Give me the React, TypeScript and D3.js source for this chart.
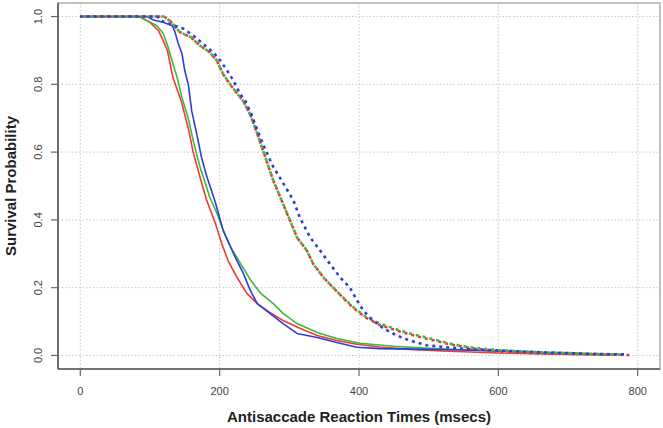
import { useMemo } from 'react';
import { scaleLinear, line, curveLinear } from 'd3';

// Kaplan-Meier style survival estimates: [msecs, probability]
const redSolid: [number, number][] = [
  [0, 1], [80, 1], [86, 0.998], [100, 0.983], [112, 0.959], [119, 0.929], [125, 0.9],
  [129, 0.86], [133, 0.82], [141, 0.773], [145, 0.75], [155, 0.67], [162, 0.6],
  [172, 0.525], [181, 0.46], [194, 0.389], [203, 0.33], [212, 0.28], [225, 0.23],
  [239, 0.183], [254, 0.153], [272, 0.127], [291, 0.103], [315, 0.08], [340, 0.059],
  [368, 0.044], [397, 0.033], [430, 0.025], [473, 0.018], [520, 0.013], [560, 0.01],
  [600, 0.007], [650, 0.005], [700, 0.003], [760, 0.001],
];
const greenSolid: [number, number][] = [
  [0, 1], [85, 1], [96, 0.988], [110, 0.973], [119, 0.95], [126, 0.91], [133, 0.86],
  [139, 0.82], [146, 0.76], [155, 0.7], [162, 0.634], [172, 0.555], [186, 0.466],
  [196, 0.42], [205, 0.37], [216, 0.319], [230, 0.271], [245, 0.221], [259, 0.183],
  [277, 0.153], [291, 0.124], [311, 0.094], [340, 0.068], [368, 0.05], [401, 0.036],
  [450, 0.027], [500, 0.021], [550, 0.017], [600, 0.013], [650, 0.009], [700, 0.005],
  [750, 0.002],
];
const blueSolid: [number, number][] = [
  [0, 1], [95, 1], [105, 0.99], [119, 0.983], [132, 0.973], [136, 0.954], [140, 0.924],
  [146, 0.89], [150, 0.84], [155, 0.8], [160, 0.72], [167, 0.655], [174, 0.584],
  [182, 0.525], [193, 0.457], [205, 0.369], [220, 0.3], [234, 0.242], [244, 0.192],
  [254, 0.153], [272, 0.124], [291, 0.094], [311, 0.065], [340, 0.053], [368, 0.038],
  [397, 0.024], [430, 0.02], [500, 0.018], [550, 0.016], [600, 0.013], [650, 0.009],
  [700, 0.006], [770, 0.002],
];
const redDashed: [number, number][] = [
  [0, 1], [120, 1], [130, 0.985], [143, 0.954], [158, 0.94], [172, 0.914], [186, 0.894],
  [196, 0.87], [205, 0.83], [215, 0.8], [225, 0.773], [234, 0.75], [244, 0.71],
  [253, 0.66], [263, 0.6], [277, 0.516], [287, 0.467], [301, 0.398], [311, 0.348],
  [325, 0.31], [334, 0.271], [349, 0.23], [363, 0.2], [377, 0.17], [392, 0.14],
  [411, 0.11], [430, 0.09], [449, 0.077], [473, 0.062], [502, 0.047], [530, 0.033],
  [559, 0.022], [600, 0.01], [650, 0.007], [700, 0.005], [750, 0.003], [793, 0.001],
];
const greenDashed: [number, number][] = [
  [0, 1], [120, 1], [130, 0.985], [143, 0.954], [158, 0.94], [172, 0.914], [186, 0.894],
  [196, 0.87], [205, 0.83], [215, 0.8], [225, 0.773], [234, 0.75], [244, 0.71],
  [253, 0.66], [263, 0.6], [277, 0.516], [287, 0.467], [301, 0.398], [311, 0.348],
  [325, 0.31], [334, 0.271], [349, 0.23], [363, 0.2], [377, 0.171], [392, 0.142],
  [411, 0.112], [430, 0.094], [449, 0.08], [473, 0.065], [502, 0.05], [530, 0.035],
  [559, 0.024], [600, 0.016], [650, 0.01], [700, 0.007], [750, 0.004], [780, 0.002],
];
const blueDashed: [number, number][] = [
  [0, 1], [110, 1], [119, 0.985], [133, 0.975], [148, 0.964], [162, 0.944], [176, 0.92],
  [191, 0.894], [201, 0.87], [211, 0.84], [220, 0.81], [229, 0.773], [237, 0.75],
  [246, 0.71], [255, 0.66], [264, 0.615], [276, 0.56], [289, 0.516], [306, 0.457],
  [315, 0.407], [330, 0.348], [344, 0.31], [358, 0.271], [373, 0.23], [387, 0.2],
  [395, 0.17], [406, 0.133], [420, 0.103], [435, 0.08], [454, 0.059], [473, 0.044],
  [497, 0.03], [526, 0.024], [559, 0.018], [598, 0.015], [650, 0.01], [700, 0.007],
  [750, 0.004], [786, 0.003],
];

const xTicks = [0, 200, 400, 600, 800];
const yTicks = [0, 0.2, 0.4, 0.6, 0.8, 1.0];

const RED = '#ee3b34';
const GREEN = '#3cb83c';
const BLUE = '#2b3fd6';

const W = 663;
const H = 428;
const box = { left: 58, right: 660, top: 3, bottom: 369 };
const font = '"Liberation Sans", Arial, Helvetica, sans-serif';

const App = () => {
  const x = useMemo(() => scaleLinear().domain([-32, 832]).range([box.left, box.right]), []);
  const y = useMemo(() => scaleLinear().domain([-0.04, 1.04]).range([box.bottom, box.top]), []);
  const path = line<[number, number]>()
    .x((d) => x(d[0]))
    .y((d) => y(d[1]))
    .curve(curveLinear);

  const solid = [
    { data: redSolid, color: RED },
    { data: greenSolid, color: GREEN },
    { data: blueSolid, color: BLUE },
  ];
  const dashed = [
    { data: redDashed, color: RED, offset: 0 },
    { data: greenDashed, color: GREEN, offset: 3 },
    { data: blueDashed, color: BLUE, offset: 1 },
  ];

  return (
    <svg
      width={W}
      height={H}
      style={{ position: 'absolute', left: 0, top: 0, background: '#fff' }}
      fontFamily={font}
    >
      {/* grid */}
      {xTicks.map((t) => (
        <line key={'gx' + t} x1={x(t)} x2={x(t)} y1={box.top} y2={box.bottom}
          stroke="#c8c8c8" strokeWidth={1} strokeDasharray="1.5 2" />
      ))}
      {yTicks.map((t) => (
        <line key={'gy' + t} x1={box.left} x2={box.right} y1={y(t)} y2={y(t)}
          stroke="#c8c8c8" strokeWidth={1} strokeDasharray="1.5 2" />
      ))}

      {/* curves */}
      {solid.map((s, i) => (
        <path key={'s' + i} d={path(s.data) ?? ''} fill="none" stroke={s.color}
          strokeWidth={1.6} strokeLinejoin="round" />
      ))}
      {dashed.map((s, i) => (
        <path key={'d' + i} d={path(s.data) ?? ''} fill="none" stroke={s.color}
          strokeWidth={2.6} strokeDasharray="3 4" strokeDashoffset={s.offset} />
      ))}

      {/* box */}
      <rect x={box.left} y={box.top} width={box.right - box.left} height={box.bottom - box.top}
        fill="none" stroke="#b0b0b0" strokeWidth={1.6} />
      <line x1={box.left} x2={box.left} y1={box.top} y2={box.bottom} stroke="#5a5a5a" strokeWidth={1.6} />
      <line x1={box.left} x2={box.right} y1={box.bottom} y2={box.bottom} stroke="#5a5a5a" strokeWidth={1.6} />

      {/* x axis */}
      {xTicks.map((t) => (
        <g key={'xt' + t}>
          <line x1={x(t)} x2={x(t)} y1={box.bottom} y2={box.bottom + 7} stroke="#666" strokeWidth={1.2} />
          <text x={x(t)} y={395} textAnchor="middle" fontSize={11} fill="#444">{t}</text>
        </g>
      ))}
      <text x={(box.left + box.right) / 2} y={422} textAnchor="middle" fontSize={15}
        fontWeight="bold" fill="#222">Antisaccade Reaction Times (msecs)</text>

      {/* y axis */}
      {yTicks.map((t) => (
        <g key={'yt' + t}>
          <line x1={box.left - 7} x2={box.left} y1={y(t)} y2={y(t)} stroke="#666" strokeWidth={1.2} />
          <text transform={`translate(42,${y(t)}) rotate(-90)`} textAnchor="middle"
            fontSize={11} fill="#444">{t.toFixed(1)}</text>
        </g>
      ))}
      <text transform={`translate(16,${(box.top + box.bottom) / 2}) rotate(-90)`}
        textAnchor="middle" fontSize={15} fontWeight="bold" fill="#222">Survival Probability</text>
    </svg>
  );
};

export default App;
